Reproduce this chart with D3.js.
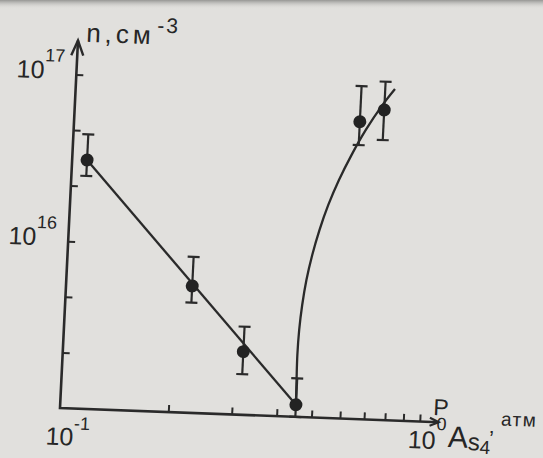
<!DOCTYPE html>
<html>
<head>
<meta charset="utf-8">
<script src="https://cdn.jsdelivr.net/npm/d3@7"></script>
<style>
  html, body { margin: 0; padding: 0; background: #e1e0dd; }
  svg { display: block; }
  text { font-family: "Liberation Sans", Arial, sans-serif; fill: #262626; }
</style>
</head>
<body>
<svg id="chart" width="543" height="458"></svg>
<script>
// Carrier density n (cm^-3) against arsenic vapour pressure P_As4 (atm)
const pressure    = [0.110, 0.224, 0.317, 0.451, 0.621, 0.723];
const density     = [3.09e16, 5.75e15, 2.39e15, 1.18e15, 6.03e16, 7.18e16];
const densityLow  = [2.48e16, 4.57e15, 1.75e15, 1.00e15, 4.37e16, 4.74e16];
const densityHigh = [4.40e16, 8.60e15, 3.37e15, 1.70e15, 9.86e16, 1.06e17];

// straight falling branch
const fallPressure = [0.110, 0.451];
const fallDensity  = [3.09e16, 1.18e15];

// rising branch
const risePressure = [0.451, 0.4493, 0.4481, 0.4498, 0.4550, 0.4638, 0.4776,
                      0.4963, 0.5210, 0.5534, 0.5948, 0.6467, 0.7135, 0.7694];
const riseDensity  = [1.18e15, 1.662e15, 2.346e15, 3.314e15, 4.685e15, 6.62e15, 9.38e15,
                      1.327e16, 1.884e16, 2.673e16, 3.79e16, 5.40e16, 7.67e16, 9.64e16];

// ticks and tick labels
const xTicks = [0.2, 0.3, 0.4, 0.5, 0.6, 0.7, 0.8, 0.9, 1];
const yTicks = [Math.pow(10, 15 + 1/3), Math.pow(10, 15 + 2/3), 1e16,
                Math.pow(10, 16 + 1/3), Math.pow(10, 16 + 2/3), 1e17];
const xLabelValues = [0.1, 1];
const xLabelExps   = ["-1", "0"];
const yLabelValues = [1e16, 1e17];
const yLabelExps   = ["16", "17"];

const ink = "#2a2a2a";
const svg = d3.select("#chart");

// paper background with a darker edge along the top
const defs = svg.append("defs");
const edge = defs.append("linearGradient").attr("id", "edge")
  .attr("x1", 0).attr("y1", 0).attr("x2", 0).attr("y2", 1);
edge.append("stop").attr("offset", "0%").attr("stop-color", "#8e8e8c").attr("stop-opacity", 0.9);
edge.append("stop").attr("offset", "100%").attr("stop-color", "#e1e0dd").attr("stop-opacity", 0);
svg.append("rect").attr("width", 543).attr("height", 458).attr("fill", "#e1e0dd");
svg.append("rect").attr("width", 543).attr("height", 9).attr("fill", "url(#edge)");

// the printed plate sits slightly tilted; everything is drawn in its own frame
const plate = svg.append("g")
  .attr("transform", "matrix(0.9993,0.0374,-0.0489,0.9988,60,408)");

const x = d3.scaleLog().domain([0.1, 1]).range([0, 360]);
const y = d3.scaleLog().domain([1e15, 1e17]).range([0, -334]);

// axes
const xAxis = plate.append("g")
  .call(d3.axisBottom(x).tickValues(xTicks).tickSize(-7).tickFormat(""));
const yAxis = plate.append("g")
  .call(d3.axisLeft(y).tickValues(yTicks).tickSize(-7).tickFormat(""));
[xAxis, yAxis].forEach(a => {
  a.select(".domain").remove();
  a.selectAll("line").attr("stroke", ink).attr("stroke-width", 2);
});

const xEnd = 379, yEnd = -368;
plate.append("path")
  .attr("d", `M0,${yEnd} L0,0 L${xEnd},0`)
  .attr("fill", "none").attr("stroke", ink).attr("stroke-width", 2.6)
  .attr("stroke-linejoin", "miter");
plate.append("path")
  .attr("d", `M-6,${yEnd + 15} L0,${yEnd} L6,${yEnd + 15}`)
  .attr("fill", "none").attr("stroke", ink).attr("stroke-width", 2.4);
plate.append("path")
  .attr("d", `M${xEnd - 9},-4 L${xEnd},0 L${xEnd - 9},4`)
  .attr("fill", "none").attr("stroke", ink).attr("stroke-width", 2.2);

// tick labels
yLabelValues.forEach((v, i) => {
  const t = plate.append("text")
    .attr("x", -12).attr("y", y(v) + 5)
    .attr("text-anchor", "end").attr("font-size", 25);
  t.append("tspan").text("10");
  t.append("tspan").attr("dy", -17).attr("font-size", 18).text(yLabelExps[i]);
});
const xLabelShift = [[-13, 37, -16], [-11, 27, -19]];
xLabelValues.forEach((v, i) => {
  const t = plate.append("text")
    .attr("x", x(v) + xLabelShift[i][0]).attr("y", xLabelShift[i][1])
    .attr("font-size", 25);
  t.append("tspan").text("10");
  t.append("tspan").attr("dy", xLabelShift[i][2]).attr("font-size", 18).text(xLabelExps[i]);
});

// axis titles
const yTitle = plate.append("text").attr("x", 8).attr("y", -367)
  .attr("font-size", 26).attr("letter-spacing", 4);
yTitle.append("tspan").text("n,см");
yTitle.append("tspan").attr("dy", -12).attr("dx", 2).attr("font-size", 21)
  .attr("letter-spacing", 2).text("-3");

plate.append("text").attr("x", 373).attr("y", -7).attr("font-size", 23).text("P");
plate.append("text").attr("x", 389).attr("y", 24.5).attr("font-size", 30).text("A");
plate.append("text").attr("x", 409).attr("y", 26.7).attr("font-size", 24).text("s");
plate.append("text").attr("x", 421).attr("y", 30).attr("font-size", 19).text("4");
plate.append("text").attr("x", 430).attr("y", 22).attr("font-size", 22).text("’");
plate.append("text").attr("x", 441).attr("y", 1).attr("font-size", 19)
  .attr("letter-spacing", 1.5).text("атм");

// curves
const line = d3.line().x(d => x(d[0])).y(d => y(d[1]));
plate.append("path")
  .attr("d", line(d3.zip(fallPressure, fallDensity)))
  .attr("fill", "none").attr("stroke", ink).attr("stroke-width", 2.3);
plate.append("path")
  .attr("d", line.curve(d3.curveCatmullRom.alpha(0.5))(d3.zip(risePressure, riseDensity)))
  .attr("fill", "none").attr("stroke", ink).attr("stroke-width", 2.3);

// error bars
const cap = 6;
const bars = plate.append("g").attr("stroke", ink).attr("stroke-width", 2.2);
pressure.forEach((p, i) => {
  const cx = x(p);
  bars.append("line").attr("x1", cx).attr("x2", cx)
    .attr("y1", y(densityLow[i])).attr("y2", y(densityHigh[i]));
  bars.append("line").attr("x1", cx - cap).attr("x2", cx + cap)
    .attr("y1", y(densityHigh[i])).attr("y2", y(densityHigh[i]));
  bars.append("line").attr("x1", cx - cap).attr("x2", cx + cap)
    .attr("y1", y(densityLow[i])).attr("y2", y(densityLow[i]));
});

// measured points
plate.append("g").selectAll("circle")
  .data(d3.zip(pressure, density))
  .join("circle")
  .attr("cx", d => x(d[0])).attr("cy", d => y(d[1]))
  .attr("r", 6.5).attr("fill", "#232323");
</script>
</body>
</html>
